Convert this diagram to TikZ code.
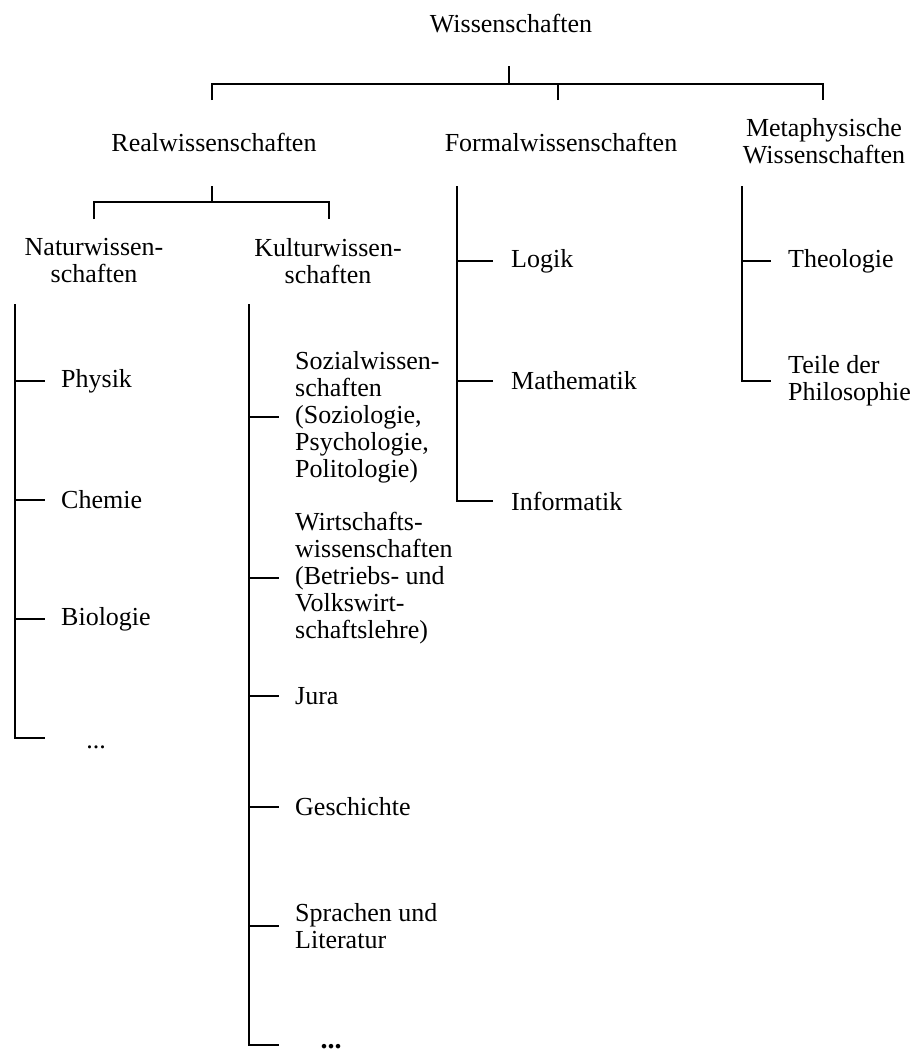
\documentclass[tikz,border=0pt]{standalone}
\usepackage{fontspec}
\setmainfont{Liberation Serif}

\tikzset{
    lbl/.style={inner sep=0pt, font=\fontsize{26}{27}\selectfont},
    leaf/.style={lbl, anchor=west, align=left},
    branch/.style={line width=1.2pt},
}

\begin{document}
\begin{tikzpicture}[x=1pt, y=-1pt]
    \useasboundingbox (0,0) rectangle (915,1055);

    % top level
    \node[lbl, anchor=base] (wiss) at (511,32) {Wissenschaften};
    \node[lbl, anchor=base] (real) at (214,151) {Realwissenschaften};
    \node[lbl, anchor=base] (formal) at (561,151) {Formalwissenschaften};
    \node[lbl, align=center] (meta) at (824,141) {Metaphysische\\Wissenschaften};

    \coordinate (j0) at (509,84);
    \coordinate (real-in) at (212,100);
    \coordinate (formal-in) at (558,100);
    \coordinate (meta-in) at (823,100);
    \draw[branch] (j0) -- ++(0,-18);
    \draw[branch] (real-in) |- (j0) -| (meta-in);
    \draw[branch] (formal-in) -- (formal-in |- j0);

    % Realwissenschaften
    \node[lbl, align=center] (natur) at (94,261) {Naturwissen-\\schaften};
    \node[lbl, align=center] (kultur) at (328,261) {Kulturwissen-\\schaften};

    \coordinate (j1) at (212,202);
    \coordinate (natur-in) at (94,219);
    \coordinate (kultur-in) at (329,219);
    \draw[branch] (j1) -- ++(0,-16);
    \draw[branch] (natur-in) |- (j1) -| (kultur-in);

    % Naturwissenschaften
    \node[leaf] (phys) at (61,381) {Physik};
    \node[leaf] (chem) at (61,500) {Chemie};
    \node[leaf] (bio) at (61,619) {Biologie};
    \node[lbl] (natur-more) at (96,747) {...};

    \coordinate (natur-top) at (15,304);
    \coordinate (natur-end) at (15,738);
    \draw[branch] (natur-top) -- (natur-end) -- ++(30,0);
    \draw[branch] (natur-top |- phys.west) -- ([xshift=-16pt]phys.west);
    \draw[branch] (natur-top |- chem.west) -- ([xshift=-16pt]chem.west);
    \draw[branch] (natur-top |- bio.west) -- ([xshift=-16pt]bio.west);

    % Kulturwissenschaften
    \node[leaf] (sozial) at (295,417) {Sozialwissen-\\schaften\\(Soziologie,\\Psychologie,\\Politologie)};
    \node[leaf] (wirtschaft) at (295,578) {Wirtschafts-\\wissenschaften\\(Betriebs- und\\Volkswirt-\\schaftslehre)};
    \node[leaf] (jura) at (295,696) {Jura};
    \node[leaf] (gesch) at (295,807) {Geschichte};
    \node[leaf] (sprach) at (295,926) {Sprachen und\\Literatur};
    \node[lbl, font=\fontsize{28}{28}\selectfont\bfseries] (kultur-more) at (331,1047) {...};

    \coordinate (kultur-top) at (249,304);
    \coordinate (kultur-end) at (249,1045);
    \draw[branch] (kultur-top) -- (kultur-end) -- ++(30,0);
    \draw[branch] (kultur-top |- sozial.west) -- ([xshift=-16pt]sozial.west);
    \draw[branch] (kultur-top |- wirtschaft.west) -- ([xshift=-16pt]wirtschaft.west);
    \draw[branch] (kultur-top |- jura.west) -- ([xshift=-16pt]jura.west);
    \draw[branch] (kultur-top |- gesch.west) -- ([xshift=-16pt]gesch.west);
    \draw[branch] (kultur-top |- sprach.west) -- ([xshift=-16pt]sprach.west);

    % Formalwissenschaften
    \node[leaf] (logik) at (511,261) {Logik};
    \node[leaf] (mathe) at (511,381) {Mathematik};
    \node[leaf] (info) at (511,501) {Informatik};

    \coordinate (formal-top) at (457,186);
    \draw[branch] (formal-top) -- (formal-top |- info.west) -- ([xshift=-18pt]info.west);
    \draw[branch] (formal-top |- logik.west) -- ([xshift=-18pt]logik.west);
    \draw[branch] (formal-top |- mathe.west) -- ([xshift=-18pt]mathe.west);

    % Metaphysische Wissenschaften
    \node[leaf] (theo) at (788,261) {Theologie};
    \node[leaf] (philo) at (788,381) {Teile der\\Philosophie};

    \coordinate (meta-top) at (742,186);
    \draw[branch] (meta-top) -- (meta-top |- philo.west) -- ([xshift=-17pt]philo.west);
    \draw[branch] (meta-top |- theo.west) -- ([xshift=-17pt]theo.west);

\end{tikzpicture}
\end{document}
